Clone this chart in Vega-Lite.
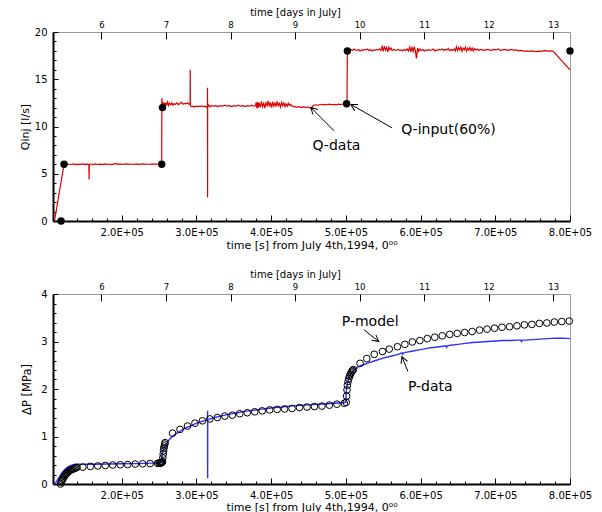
{
  "$schema": "https://vega.github.io/schema/vega-lite/v6.json",
  "padding": {"left": 18, "top": 6, "right": 5, "bottom": 0},
  "spacing": 17,
  "config": {
    "font": "DejaVu Sans",
    "view": {"stroke": "#9a9a9a", "strokeWidth": 1},
    "axis": {"grid": false, "labelFont": "DejaVu Sans", "titleFont": "DejaVu Sans", "labelColor": "#000", "titleColor": "#000", "titleFontWeight": "normal", "tickColor": "#000", "domainColor": "#000"}
  },
  "datasets": {
    "q": [
      {"t":110000,"v":0},{"t":122500,"v":5.85},{"t":123500,"v":6.02},{"t":126000,"v":5.95},{"t":129000,"v":6.03},{"t":132000,"v":5.98},{"t":135000,"v":6.05},{"t":138000,"v":5.97},{"t":141000,"v":6.02},{"t":144000,"v":5.96},{"t":147000,"v":6.04},{"t":150000,"v":5.99},{"t":153000,"v":6.02},{"t":156000,"v":5.97},{"t":156300,"v":4.4},{"t":156600,"v":5.98},{"t":159000,"v":6.03},{"t":162000,"v":5.96},{"t":165000,"v":6.04},{"t":168000,"v":5.98},{"t":171000,"v":6.02},{"t":174000,"v":5.97},{"t":177000,"v":6.05},{"t":180000,"v":6.0},{"t":183000,"v":6.03},{"t":186000,"v":5.97},{"t":189000,"v":6.02},{"t":192000,"v":6.06},{"t":195000,"v":5.99},{"t":198000,"v":6.04},{"t":201000,"v":5.98},{"t":204000,"v":6.02},{"t":207000,"v":6.05},{"t":210000,"v":6.0},{"t":213000,"v":6.03},{"t":216000,"v":5.98},{"t":219000,"v":6.04},{"t":222000,"v":6.0},{"t":225000,"v":6.02},{"t":228000,"v":6.05},{"t":231000,"v":5.99},{"t":234000,"v":6.03},{"t":237000,"v":5.98},{"t":240000,"v":6.04},{"t":243000,"v":6.01},{"t":246000,"v":6.03},{"t":249000,"v":6.0},{"t":252000,"v":6.04},{"t":253500,"v":6.02},
      {"t":253700,"v":13.0},{"t":254200,"v":12.1},{"t":255000,"v":12.6},{"t":256000,"v":12.2},{"t":257000,"v":12.5},{"t":258000,"v":12.15},{"t":259000,"v":12.45},{"t":260000,"v":12.3},{"t":261500,"v":12.6},{"t":262500,"v":12.2},{"t":264000,"v":12.45},{"t":265500,"v":12.3},{"t":267000,"v":12.5},{"t":268500,"v":12.25},{"t":270000,"v":12.4},{"t":272000,"v":12.35},{"t":274000,"v":12.5},{"t":276000,"v":12.3},{"t":278000,"v":12.45},{"t":280000,"v":12.55},{"t":282000,"v":12.35},{"t":284000,"v":12.45},{"t":286000,"v":12.4},{"t":288000,"v":12.5},{"t":290000,"v":12.35},{"t":291500,"v":12.4},{"t":291700,"v":16.0},{"t":291900,"v":12.2},{"t":293000,"v":12.1},{"t":295000,"v":12.15},{"t":297000,"v":12.05},{"t":299000,"v":12.15},{"t":301000,"v":12.1},{"t":303000,"v":12.15},{"t":305000,"v":12.1},{"t":307000,"v":12.2},{"t":309000,"v":12.1},{"t":311000,"v":12.15},{"t":313000,"v":12.05},{"t":314700,"v":12.2},{"t":314800,"v":14.1},{"t":314900,"v":2.5},{"t":315000,"v":12.0},{"t":316000,"v":12.3},{"t":318000,"v":12.1},{"t":320000,"v":12.2},{"t":323000,"v":12.15},{"t":326000,"v":12.2},{"t":329000,"v":12.1},{"t":332000,"v":12.2},{"t":335000,"v":12.15},{"t":338000,"v":12.25},{"t":341000,"v":12.15},{"t":344000,"v":12.2},{"t":347000,"v":12.1},{"t":350000,"v":12.2},{"t":353000,"v":12.15},{"t":356000,"v":12.25},{"t":359000,"v":12.15},{"t":362000,"v":12.2},{"t":365000,"v":12.1},{"t":368000,"v":12.2},{"t":371000,"v":12.15},{"t":374000,"v":12.25},{"t":377000,"v":12.15},{"t":379000,"v":12.2},{"t":380000,"v":12.55},{"t":381000,"v":11.9},{"t":382000,"v":12.6},{"t":383000,"v":12.0},{"t":384000,"v":12.5},{"t":385500,"v":12.05},{"t":387000,"v":12.65},{"t":388500,"v":12.1},{"t":390000,"v":12.45},{"t":391500,"v":11.95},{"t":393000,"v":12.5},{"t":394500,"v":12.2},{"t":396000,"v":12.7},{"t":397500,"v":12.1},{"t":399000,"v":12.55},{"t":400500,"v":12.0},{"t":402000,"v":12.6},{"t":403500,"v":12.15},{"t":405000,"v":12.5},{"t":406500,"v":12.1},{"t":408000,"v":12.65},{"t":409500,"v":12.2},{"t":411000,"v":12.45},{"t":412500,"v":12.05},{"t":414000,"v":12.55},{"t":415500,"v":12.2},{"t":417000,"v":12.5},{"t":418500,"v":12.1},{"t":420000,"v":12.4},{"t":421500,"v":12.15},{"t":423000,"v":12.45},{"t":424500,"v":12.2},{"t":426000,"v":12.35},{"t":428000,"v":12.15},{"t":431000,"v":12.1},{"t":434000,"v":12.05},{"t":437000,"v":12.1},{"t":440000,"v":12.0},{"t":443000,"v":12.08},{"t":446000,"v":12.02},{"t":449000,"v":12.06},{"t":452000,"v":12.0},{"t":454700,"v":11.85},{"t":455000,"v":12.1},{"t":457000,"v":12.25},{"t":460000,"v":12.3},{"t":463000,"v":12.25},{"t":466000,"v":12.35},{"t":469000,"v":12.28},{"t":472000,"v":12.33},{"t":475000,"v":12.3},{"t":478000,"v":12.36},{"t":481000,"v":12.3},{"t":484000,"v":12.34},{"t":487000,"v":12.3},{"t":490000,"v":12.36},{"t":493000,"v":12.32},{"t":496000,"v":12.38},{"t":499000,"v":12.35},{"t":501500,"v":12.4},
      {"t":502000,"v":18.0},{"t":503000,"v":18.2},{"t":505000,"v":18.0},{"t":507000,"v":18.15},{"t":509000,"v":18.05},{"t":511000,"v":18.2},{"t":513000,"v":18.1},{"t":515000,"v":18.05},{"t":517000,"v":18.15},{"t":519000,"v":18.0},{"t":521000,"v":18.1},{"t":523000,"v":18.05},{"t":525000,"v":18.15},{"t":527000,"v":18.1},{"t":529000,"v":18.2},{"t":531000,"v":18.05},{"t":533000,"v":18.15},{"t":535000,"v":18.0},{"t":537000,"v":18.1},{"t":539000,"v":18.05},{"t":541000,"v":18.15},{"t":543000,"v":18.1},{"t":545000,"v":18.2},{"t":547000,"v":18.05},{"t":548500,"v":18.45},{"t":550000,"v":17.95},{"t":551500,"v":18.5},{"t":553000,"v":18.1},{"t":554500,"v":18.35},{"t":556000,"v":17.9},{"t":557500,"v":18.4},{"t":559000,"v":18.1},{"t":560500,"v":18.3},{"t":562000,"v":18.05},{"t":564000,"v":18.15},{"t":566000,"v":18.05},{"t":568000,"v":18.1},{"t":570000,"v":18.15},{"t":572000,"v":18.05},{"t":574000,"v":18.1},{"t":576000,"v":18.0},{"t":578000,"v":18.15},{"t":580000,"v":18.05},{"t":582000,"v":18.2},{"t":584000,"v":18.0},{"t":585500,"v":18.4},{"t":587000,"v":17.9},{"t":588500,"v":18.35},{"t":590000,"v":17.95},{"t":591500,"v":18.45},{"t":593000,"v":18.0},{"t":594500,"v":17.2},{"t":596000,"v":18.3},{"t":597500,"v":17.95},{"t":599000,"v":18.2},{"t":601000,"v":18.05},{"t":603000,"v":18.15},{"t":605000,"v":18.0},{"t":607000,"v":18.1},{"t":609000,"v":18.05},{"t":611000,"v":18.15},{"t":613000,"v":18.05},{"t":615000,"v":18.1},{"t":617000,"v":18.2},{"t":619000,"v":18.0},{"t":621000,"v":18.1},{"t":623000,"v":18.05},{"t":625000,"v":18.15},{"t":627000,"v":18.1},{"t":629000,"v":18.2},{"t":631000,"v":18.05},{"t":633000,"v":18.15},{"t":635000,"v":18.1},{"t":637000,"v":18.25},{"t":639000,"v":18.0},{"t":641000,"v":18.15},{"t":643000,"v":18.05},{"t":645000,"v":18.2},{"t":646500,"v":18.0},{"t":648000,"v":18.45},{"t":649500,"v":18.05},{"t":651000,"v":18.35},{"t":652500,"v":18.1},{"t":654000,"v":18.4},{"t":655500,"v":17.95},{"t":657000,"v":18.3},{"t":658500,"v":18.1},{"t":660000,"v":18.4},{"t":661500,"v":18.0},{"t":663000,"v":18.3},{"t":664500,"v":18.1},{"t":666000,"v":18.35},{"t":667500,"v":18.05},{"t":669000,"v":18.3},{"t":670500,"v":18.0},{"t":672000,"v":18.25},{"t":674000,"v":18.1},{"t":676000,"v":18.2},{"t":678000,"v":18.05},{"t":680000,"v":18.15},{"t":683000,"v":18.1},{"t":686000,"v":18.05},{"t":689000,"v":18.15},{"t":692000,"v":18.1},{"t":695000,"v":18.05},{"t":698000,"v":18.15},{"t":701000,"v":18.1},{"t":704000,"v":18.2},{"t":707000,"v":18.05},{"t":710000,"v":18.1},{"t":713000,"v":18.15},{"t":716000,"v":18.05},{"t":719000,"v":18.1},{"t":722000,"v":18.15},{"t":725000,"v":18.05},{"t":728000,"v":18.1},{"t":731000,"v":18.0},{"t":734000,"v":18.05},{"t":737000,"v":18.0},{"t":740000,"v":17.95},{"t":743000,"v":18.0},{"t":746000,"v":17.95},{"t":749000,"v":18.0},{"t":752000,"v":17.95},{"t":755000,"v":17.92},{"t":758000,"v":17.98},{"t":761000,"v":17.95},{"t":764000,"v":18.0},{"t":767000,"v":18.02},{"t":770000,"v":17.97},{"t":773000,"v":18.0},{"t":776000,"v":17.98},{"t":777500,"v":17.95},{"t":800000,"v":16.0}
    ],
    "qin": [
      {"t":118800,"v":0},{"t":122800,"v":6},{"t":253500,"v":6},{"t":254500,"v":12},{"t":501000,"v":12.4},{"t":502000,"v":18},{"t":800000,"v":18}
    ],
    "p": [
      {"t":110000,"v":0},{"t":113000,"v":0.06},{"t":116000,"v":0.14},{"t":120000,"v":0.24},{"t":124000,"v":0.31},{"t":128000,"v":0.36},{"t":132000,"v":0.39},{"t":136000,"v":0.41},{"t":140000,"v":0.415},{"t":160000,"v":0.415},{"t":180000,"v":0.42},{"t":200000,"v":0.425},{"t":220000,"v":0.43},{"t":240000,"v":0.44},{"t":252000,"v":0.45},{"t":253500,"v":0.46},{"t":254000,"v":0.6},{"t":255000,"v":0.68},{"t":257000,"v":0.76},{"t":260000,"v":0.85},{"t":263000,"v":0.92},{"t":267000,"v":0.99},{"t":272000,"v":1.05},{"t":277000,"v":1.1},{"t":282000,"v":1.15},{"t":287000,"v":1.19},{"t":292000,"v":1.22},{"t":297000,"v":1.26},{"t":302000,"v":1.29},{"t":307000,"v":1.32},{"t":312000,"v":1.34},{"t":314800,"v":1.35},{"t":314900,"v":1.54},{"t":315000,"v":0.12},{"t":315100,"v":1.35},{"t":318000,"v":1.37},{"t":325000,"v":1.4},{"t":335000,"v":1.44},{"t":345000,"v":1.47},{"t":355000,"v":1.5},{"t":365000,"v":1.53},{"t":375000,"v":1.55},{"t":385000,"v":1.57},{"t":395000,"v":1.59},{"t":405000,"v":1.61},{"t":415000,"v":1.62},{"t":425000,"v":1.64},{"t":435000,"v":1.65},{"t":445000,"v":1.66},{"t":455000,"v":1.67},{"t":465000,"v":1.68},{"t":475000,"v":1.69},{"t":485000,"v":1.7},{"t":495000,"v":1.71},{"t":500000,"v":1.72},{"t":500500,"v":1.95},{"t":502000,"v":2.12},{"t":504000,"v":2.24},{"t":507000,"v":2.33},{"t":510000,"v":2.39},{"t":515000,"v":2.45},{"t":520000,"v":2.49},{"t":530000,"v":2.55},{"t":540000,"v":2.6},{"t":550000,"v":2.65},{"t":560000,"v":2.69},{"t":570000,"v":2.73},{"t":575000,"v":2.76},{"t":576000,"v":2.73},{"t":577000,"v":2.76},{"t":580000,"v":2.77},{"t":590000,"v":2.8},{"t":600000,"v":2.83},{"t":610000,"v":2.86},{"t":620000,"v":2.88},{"t":630000,"v":2.9},{"t":634000,"v":2.91},{"t":635000,"v":2.88},{"t":636000,"v":2.91},{"t":640000,"v":2.92},{"t":650000,"v":2.94},{"t":660000,"v":2.96},{"t":670000,"v":2.98},{"t":680000,"v":2.99},{"t":690000,"v":3.0},{"t":700000,"v":3.01},{"t":710000,"v":3.02},{"t":720000,"v":3.02},{"t":730000,"v":3.03},{"t":734000,"v":3.03},{"t":735000,"v":3.0},{"t":736000,"v":3.03},{"t":740000,"v":3.03},{"t":750000,"v":3.04},{"t":760000,"v":3.05},{"t":770000,"v":3.06},{"t":780000,"v":3.07},{"t":790000,"v":3.07},{"t":800000,"v":3.06}
    ],
    "pm": [
      {"t":118000,"v":0.0},{"t":119000,"v":0.04},{"t":120000,"v":0.07},{"t":121000,"v":0.1},{"t":122000,"v":0.13},{"t":123000,"v":0.16},{"t":124000,"v":0.18},{"t":125000,"v":0.2},{"t":126000,"v":0.22},{"t":127000,"v":0.235},{"t":128000,"v":0.25},{"t":129500,"v":0.27},{"t":131000,"v":0.29},{"t":132500,"v":0.3},{"t":134000,"v":0.31},{"t":135500,"v":0.32},{"t":137000,"v":0.33},{"t":138500,"v":0.34},{"t":140000,"v":0.35},
      {"t":148000,"v":0.355},{"t":158000,"v":0.37},{"t":168000,"v":0.38},{"t":178000,"v":0.39},{"t":188000,"v":0.4},{"t":198000,"v":0.405},{"t":208000,"v":0.41},{"t":218000,"v":0.42},{"t":228000,"v":0.425},{"t":238000,"v":0.43},{"t":248000,"v":0.435},{"t":250000,"v":0.44},{"t":251000,"v":0.44},{"t":252000,"v":0.445},{"t":252500,"v":0.445},{"t":253000,"v":0.45},{"t":253500,"v":0.45},{"t":254000,"v":0.46},{"t":254500,"v":0.47},{"t":255000,"v":0.55},{"t":255500,"v":0.63},{"t":256000,"v":0.7},{"t":256500,"v":0.76},{"t":257000,"v":0.8},{"t":257500,"v":0.84},{"t":258000,"v":0.87},
      {"t":268000,"v":1.07},{"t":278000,"v":1.15},{"t":288000,"v":1.22},{"t":298000,"v":1.28},{"t":308000,"v":1.33},{"t":318000,"v":1.37},{"t":328000,"v":1.4},{"t":338000,"v":1.43},{"t":348000,"v":1.45},{"t":358000,"v":1.48},{"t":368000,"v":1.5},{"t":378000,"v":1.52},{"t":388000,"v":1.54},{"t":398000,"v":1.56},{"t":408000,"v":1.57},{"t":418000,"v":1.58},{"t":428000,"v":1.59},{"t":438000,"v":1.61},{"t":448000,"v":1.62},{"t":458000,"v":1.63},{"t":468000,"v":1.64},{"t":478000,"v":1.66},{"t":488000,"v":1.68},{"t":498000,"v":1.7},
      {"t":500500,"v":1.72},{"t":501000,"v":1.85},{"t":501500,"v":1.98},{"t":502000,"v":2.08},{"t":503000,"v":2.16},{"t":504000,"v":2.22},{"t":505000,"v":2.27},{"t":506000,"v":2.31},{"t":507000,"v":2.34},{"t":508000,"v":2.37},{"t":509000,"v":2.39},{"t":510000,"v":2.41},
      {"t":519000,"v":2.54},{"t":528000,"v":2.64},{"t":538000,"v":2.73},{"t":549000,"v":2.79},{"t":558000,"v":2.84},{"t":569000,"v":2.89},{"t":579000,"v":2.94},{"t":589000,"v":2.99},{"t":599000,"v":3.02},{"t":609000,"v":3.06},{"t":619000,"v":3.09},{"t":629000,"v":3.12},{"t":639000,"v":3.15},{"t":649000,"v":3.17},{"t":659000,"v":3.19},{"t":669000,"v":3.21},{"t":679000,"v":3.24},{"t":689000,"v":3.26},{"t":699000,"v":3.28},{"t":709000,"v":3.3},{"t":719000,"v":3.31},{"t":729000,"v":3.33},{"t":739000,"v":3.35},{"t":749000,"v":3.36},{"t":759000,"v":3.38},{"t":769000,"v":3.39},{"t":779000,"v":3.41},{"t":789000,"v":3.42},{"t":799000,"v":3.43}
    ],
    "labTop": [
      {"t":487400,"v":7.92,"text":"Q-data"},{"t":637300,"v":9.61,"text":"Q-input(60%)"}
    ],
    "arrTop": [
      {"name":"qd","t":484300,"v":9.54,"t2":453100,"v2":12.01},{"name":"qi","t":561700,"v":9.86,"t2":506700,"v2":12.33}
    ],
    "labBot": [
      {"t":532500,"v":3.42,"text":"P-model"},{"t":613000,"v":2.05,"text":"P-data"}
    ],
    "arrBot": [
      {"name":"pm","t":524000,"v":3.25,"t2":544000,"v2":3.0},{"name":"pd","t":583000,"v":2.37,"t2":575000,"v2":2.68}
    ]
  },
  "vconcat": [
    {
      "width": 517,
      "height": 189,
      "resolve": {"axis": {"x": "independent", "y": "independent"}},
      "layer": [
        {
          "data": {"name": "q"},
          "mark": {"type": "line", "color": "#dd0000", "strokeWidth": 1.2},
          "encoding": {
            "x": {"field": "t", "type": "quantitative", "scale": {"domain": [108000, 800000], "nice": false, "zero": false},
                  "axis": {"orient": "bottom", "values": [200000,300000,400000,500000,600000,700000,800000], "labelExpr": "format(datum.value/100000,'.1f') + 'E+05'", "title": "time [s] from July 4th,1994,  0\u2070\u2070", "tickSize": -6, "labelPadding": 12, "labelFontSize": 10, "titleFontSize": 11, "titlePadding": 2, "domainWidth": 2, "labelFlush": false}},
            "y": {"field": "v", "type": "quantitative", "scale": {"domain": [0, 20], "nice": false},
                  "axis": {"orient": "left", "values": [0,5,10,15,20], "title": "Qinj [l/s]", "tickSize": -5, "labelPadding": 11, "labelFontSize": 10, "titleFontSize": 11, "titlePadding": 4, "domainWidth": 2}}
          }
        },
        {
          "data": {"name": "qin"},
          "mark": {"type": "point", "filled": true, "color": "#000", "size": 55, "opacity": 1},
          "encoding": {
            "x": {"field": "t", "type": "quantitative",
                  "axis": {"orient": "top", "values": [172800,259200,345600,432000,518400,604800,691200,777600], "labelExpr": "format(datum.value/86400+4,'d')", "title": "time [days in July]", "titleX": 242, "tickSize": -7, "labelPadding": 10, "labelFontSize": 8.5, "titleFontSize": 10, "titlePadding": 3, "domain": false}},
            "y": {"field": "v", "type": "quantitative",
                  "axis": {"orient": "left", "values": [1,2,3,4,6,7,8,9,11,12,13,14,16,17,18,19], "labels": false, "title": null, "tickSize": -3, "domain": false}}
          }
        },
        {
          "data": {"name": "labTop"},
          "mark": {"type": "text", "fontSize": 14, "font": "DejaVu Sans", "color": "#000"},
          "encoding": {
            "x": {"field": "t", "type": "quantitative",
                  "axis": {"orient": "bottom", "values": [120000,140000,160000,180000,220000,240000,260000,280000,320000,340000,360000,380000,420000,440000,460000,480000,520000,540000,560000,580000,620000,640000,660000,680000,720000,740000,760000,780000], "labels": false, "title": null, "tickSize": -3, "domain": false}},
            "y": {"field": "v", "type": "quantitative", "axis": null},
            "text": {"field": "text"}
          }
        },
        {
          "data": {"name": "arrTop"},
          "mark": {"type": "rule", "color": "#000", "strokeWidth": 1},
          "encoding": {
            "x": {"field": "t", "type": "quantitative", "axis": null},
            "y": {"field": "v", "type": "quantitative", "axis": null},
            "x2": {"field": "t2"},
            "y2": {"field": "v2"}
          }
        },
        {
          "data": {"name": "arrTop"},
          "transform": [{"filter": "datum.name == 'qd'"}],
          "mark": {"type": "point", "shape": "M -1 -0.55 L 0 0 L -1 0.55", "filled": false, "color": "#000", "strokeWidth": 1, "size": 160, "angle": 225, "opacity": 1},
          "encoding": {
            "x": {"field": "t2", "type": "quantitative", "axis": null},
            "y": {"field": "v2", "type": "quantitative", "axis": null}
          }
        },
        {
          "data": {"name": "arrTop"},
          "transform": [{"filter": "datum.name == 'qi'"}],
          "mark": {"type": "point", "shape": "M -1 -0.55 L 0 0 L -1 0.55", "filled": false, "color": "#000", "strokeWidth": 1, "size": 160, "angle": 209.7, "opacity": 1},
          "encoding": {
            "x": {"field": "t2", "type": "quantitative", "axis": null},
            "y": {"field": "v2", "type": "quantitative", "axis": null}
          }
        }
      ]
    },
    {
      "width": 517,
      "height": 190,
      "resolve": {"axis": {"x": "independent", "y": "independent"}},
      "layer": [
        {
          "data": {"name": "p"},
          "mark": {"type": "line", "color": "#3030ff", "strokeWidth": 1.4},
          "encoding": {
            "x": {"field": "t", "type": "quantitative", "scale": {"domain": [108000, 800000], "nice": false, "zero": false},
                  "axis": {"orient": "bottom", "values": [200000,300000,400000,500000,600000,700000,800000], "labelExpr": "format(datum.value/100000,'.1f') + 'E+05'", "title": "time [s] from July 4th,1994,  0\u2070\u2070", "tickSize": -6, "labelPadding": 12, "labelFontSize": 10, "titleFontSize": 11, "titlePadding": 1, "domainWidth": 2, "labelFlush": false}},
            "y": {"field": "v", "type": "quantitative", "scale": {"domain": [0, 4], "nice": false},
                  "axis": {"orient": "left", "values": [0,1,2,3,4], "title": "\u0394P [MPa]", "tickSize": -5, "labelPadding": 11, "labelFontSize": 10, "titleFontSize": 11.5, "titlePadding": 8, "domainWidth": 2}}
          }
        },
        {
          "data": {"name": "pm"},
          "mark": {"type": "point", "filled": false, "color": "#000", "size": 45, "strokeWidth": 1, "opacity": 1},
          "encoding": {
            "x": {"field": "t", "type": "quantitative",
                  "axis": {"orient": "top", "values": [172800,259200,345600,432000,518400,604800,691200,777600], "labelExpr": "format(datum.value/86400+4,'d')", "title": "time [days in July]", "titleX": 242, "tickSize": -7, "labelPadding": 10, "labelFontSize": 8.5, "titleFontSize": 10, "titlePadding": 3, "domain": false}},
            "y": {"field": "v", "type": "quantitative",
                  "axis": {"orient": "left", "values": [0.2,0.4,0.6,0.8,1.2,1.4,1.6,1.8,2.2,2.4,2.6,2.8,3.2,3.4,3.6,3.8], "labels": false, "title": null, "tickSize": -3, "domain": false}}
          }
        },
        {
          "data": {"name": "labBot"},
          "mark": {"type": "text", "fontSize": 14, "font": "DejaVu Sans", "color": "#000"},
          "encoding": {
            "x": {"field": "t", "type": "quantitative",
                  "axis": {"orient": "bottom", "values": [120000,140000,160000,180000,220000,240000,260000,280000,320000,340000,360000,380000,420000,440000,460000,480000,520000,540000,560000,580000,620000,640000,660000,680000,720000,740000,760000,780000], "labels": false, "title": null, "tickSize": -3, "domain": false}},
            "y": {"field": "v", "type": "quantitative", "axis": null},
            "text": {"field": "text"}
          }
        },
        {
          "data": {"name": "arrBot"},
          "mark": {"type": "rule", "color": "#000", "strokeWidth": 1},
          "encoding": {
            "x": {"field": "t", "type": "quantitative", "axis": null},
            "y": {"field": "v", "type": "quantitative", "axis": null},
            "x2": {"field": "t2"},
            "y2": {"field": "v2"}
          }
        },
        {
          "data": {"name": "arrBot"},
          "transform": [{"filter": "datum.name == 'pm'"}],
          "mark": {"type": "point", "shape": "M -1 -0.55 L 0 0 L -1 0.55", "filled": false, "color": "#000", "strokeWidth": 1, "size": 160, "angle": 38, "opacity": 1},
          "encoding": {
            "x": {"field": "t2", "type": "quantitative", "axis": null},
            "y": {"field": "v2", "type": "quantitative", "axis": null}
          }
        },
        {
          "data": {"name": "arrBot"},
          "transform": [{"filter": "datum.name == 'pd'"}],
          "mark": {"type": "point", "shape": "M -1 -0.55 L 0 0 L -1 0.55", "filled": false, "color": "#000", "strokeWidth": 1, "size": 160, "angle": 248, "opacity": 1},
          "encoding": {
            "x": {"field": "t2", "type": "quantitative", "axis": null},
            "y": {"field": "v2", "type": "quantitative", "axis": null}
          }
        }
      ]
    }
  ]
}
